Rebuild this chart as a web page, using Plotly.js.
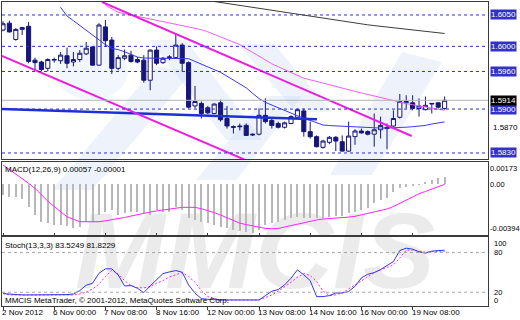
<!DOCTYPE html>
<html><head><meta charset="utf-8">
<script src="https://cdn.plot.ly/plotly-3.0.1.min.js"></script>
<style>html,body{margin:0;padding:0;background:#fff}#chart{width:520px;height:320px}</style>
</head><body><div id="chart"></div>
<script>
// ---------- DATA ----------
const tickBars = [0, 8, 16, 24, 32, 40, 48, 56, 64];
const tickLabels = ["2 Nov 2012", "6 Nov 00:00", "7 Nov 08:00", "8 Nov 16:00", "12 Nov 00:00",
  "13 Nov 08:00", "14 Nov 16:00", "16 Nov 00:00", "19 Nov 08:00"];

const open = [1.6026,1.6037,1.6011,1.6027,1.6032,1.5978,1.5975,1.5965,1.5978,1.5977,
1.5985,1.5975,1.5979,1.5988,1.5999,1.5970,1.6031,1.6010,1.5965,1.5981,
1.5986,1.5979,1.5978,1.5946,1.5994,1.5974,1.5982,1.5982,1.6002,1.5974,
1.5905,1.5909,1.5902,1.5893,1.5910,1.5885,1.5872,1.5873,1.5874,1.5860,
1.5860,1.5890,1.5882,1.5877,1.5871,1.5877,1.5887,1.5897,1.5864,1.5856,
1.5839,1.5847,1.5855,1.5848,1.5833,1.5856,1.5865,1.5864,1.5860,1.5867,
1.5869,1.5873,1.5887,1.5910,1.5910,1.5901,1.5899,1.5908,1.5910,1.5901];
const high = [1.6040,1.6041,1.6029,1.6031,1.6039,1.5982,1.5977,1.5981,1.5982,1.5991,
1.5998,1.5991,1.5994,1.6007,1.6000,1.6037,1.6042,1.6015,1.5986,1.5995,
1.5993,1.5983,1.5986,1.5995,1.6000,1.5983,1.5986,1.6021,1.6005,1.5976,
1.5937,1.5912,1.5905,1.5909,1.5915,1.5905,1.5874,1.5877,1.5877,1.5861,
1.5901,1.5917,1.5885,1.5880,1.5880,1.5890,1.5901,1.5901,1.5880,1.5858,
1.5851,1.5857,1.5857,1.5858,1.5880,1.5868,1.5869,1.5866,1.5893,1.5888,
1.5877,1.5898,1.5924,1.5922,1.5922,1.5917,1.5920,1.5909,1.5911,1.5920];
const low = [1.6024,1.6022,1.6009,1.6018,1.5973,1.5962,1.5960,1.5960,1.5974,1.5972,
1.5965,1.5968,1.5975,1.5986,1.5969,1.5969,1.5999,1.5956,1.5962,1.5978,
1.5974,1.5973,1.5942,1.5930,1.5970,1.5972,1.5978,1.5981,1.5960,1.5901,
1.5901,1.5885,1.5892,1.5892,1.5880,1.5869,1.5861,1.5866,1.5857,1.5857,
1.5858,1.5877,1.5869,1.5869,1.5869,1.5876,1.5885,1.5856,1.5853,1.5839,
1.5837,1.5844,1.5833,1.5832,1.5832,1.5843,1.5861,1.5858,1.5840,1.5853,
1.5836,1.5872,1.5885,1.5901,1.5898,1.5888,1.5898,1.5893,1.5901,1.5899];
const close = [1.6036,1.6023,1.6027,1.6030,1.5976,1.5974,1.5963,1.5979,1.5979,1.5986,
1.5973,1.5979,1.5989,1.5997,1.5970,1.6034,1.6009,1.5965,1.5982,1.5985,
1.5976,1.5975,1.5946,1.5994,1.5973,1.5981,1.5983,1.6002,1.5973,1.5903,
1.5912,1.5893,1.5894,1.5908,1.5883,1.5873,1.5871,1.5872,1.5858,1.5859,
1.5890,1.5880,1.5874,1.5871,1.5878,1.5888,1.5899,1.5864,1.5856,1.5840,
1.5849,1.5855,1.5849,1.5833,1.5857,1.5865,1.5862,1.5860,1.5867,1.5874,
1.5871,1.5885,1.5912,1.5912,1.5901,1.5905,1.5906,1.5909,1.5903,1.5914];

const maBlue = [null,null,null,null,null,null,null,null,null,1.60623,
1.60484,1.60409,1.60333,1.60256,1.60181,1.60104,1.60028,1.59967,1.59948,1.59913,
1.59872,1.59830,1.59814,1.59814,1.59812,1.59810,1.59810,1.59810,1.59812,1.59803,
1.59760,1.59717,1.59674,1.59631,1.59585,1.59524,1.59463,1.59401,1.59339,1.59251,
1.59168,1.59107,1.59063,1.59020,1.58975,1.58931,1.58894,1.58856,1.58818,1.58782,
1.58746,1.58737,1.58731,1.58723,1.58717,1.58709,1.58703,1.58698,1.58698,1.58697,
1.58698,1.58699,1.58701,1.58711,1.58719,1.58728,1.58739,1.58762,1.58779,1.58795];
const maPink = [null,null,null,null,null,null,null,null,null,null,
null,null,null,null,null,null,1.60656,1.60597,1.60543,1.60521,
1.60500,1.60478,1.60455,1.60436,1.60415,1.60395,1.60374,1.60353,1.60331,1.60310,
1.60288,1.60266,1.60232,1.60193,1.60154,1.60115,1.60076,1.60027,1.59964,1.59902,
1.59841,1.59779,1.59722,1.59675,1.59629,1.59582,1.59534,1.59492,1.59467,1.59439,
1.59414,1.59388,1.59361,1.59336,1.59310,1.59283,1.59258,1.59232,1.59205,1.59179,
1.59154,1.59127,1.59104,1.59087,1.59069,1.59052,1.59034,1.59015,1.58998,1.58980];
const maDark = [null,null,null,null,null,null,null,null,null,null,
null,null,null,null,null,null,null,null,null,null,
null,null,null,null,null,null,null,null,null,null,
null,null,null,1.60715,1.60699,1.60683,1.60667,1.60651,1.60636,1.60620,
1.60604,1.60589,1.60573,1.60557,1.60541,1.60526,1.60510,1.60494,1.60478,1.60463,
1.60447,1.60431,1.60415,1.60400,1.60384,1.60368,1.60354,1.60343,1.60331,1.60320,
1.60308,1.60297,1.60285,1.60274,1.60263,1.60251,1.60240,1.60228,1.60217,1.60205];

// trend / channel lines (two anchor points each: bar index, price)
const trendBlueBars = [-0.16, 49.06];
const trendBluePrice = [1.59001, 1.58837];
const chanUpBars = [15.47, 63.86];
const chanUpPrice = [1.60707, 1.58571];
const chanLowBars = [-0.16, 38.6];
const chanLowPrice = [1.59848, 1.58157];

const levelPrices = [1.6050, 1.6000, 1.5960, 1.5900, 1.5830];
const levelText = ["1.6050", "1.6000", "1.5960", "1.5900", "1.5830"];
const bidPrice = 1.5914;
const bidText = "1.5914";
const plainPrice = [1.5870];
const plainText = ["1.5870"];

const macdHist = [-0.00083,-0.00096,-0.00101,-0.00117,-0.00174,-0.00239,-0.00291,-0.00303,-0.00316,-0.00316,
-0.00324,-0.00342,-0.00329,-0.00291,-0.00291,-0.00239,-0.00213,-0.00200,-0.00239,-0.00225,
-0.00213,-0.00213,-0.00225,-0.00239,-0.00200,-0.00213,-0.00213,-0.00174,-0.00200,-0.00264,
-0.00277,-0.00291,-0.00303,-0.00316,-0.00329,-0.00342,-0.00355,-0.00361,-0.00368,-0.00376,
-0.00355,-0.00316,-0.00303,-0.00291,-0.00277,-0.00264,-0.00252,-0.00264,-0.00264,-0.00264,
-0.00260,-0.00252,-0.00244,-0.00244,-0.00225,-0.00213,-0.00200,-0.00182,-0.00148,-0.00122,
-0.00104,-0.00057,-0.00031,-0.00019,-0.00011,-0.00005,0.00020,0.00033,0.00047,0.00057];
const macdSignal = [0.00150,0.00116,0.00080,0.00044,0.00008,-0.00032,-0.00082,-0.00131,-0.00172,-0.00214,
-0.00253,-0.00271,-0.00290,-0.00291,-0.00291,-0.00291,-0.00284,-0.00277,-0.00270,-0.00258,
-0.00247,-0.00235,-0.00225,-0.00216,-0.00207,-0.00200,-0.00192,-0.00184,-0.00179,-0.00179,
-0.00179,-0.00190,-0.00204,-0.00220,-0.00239,-0.00260,-0.00281,-0.00302,-0.00313,-0.00324,
-0.00335,-0.00343,-0.00345,-0.00344,-0.00332,-0.00320,-0.00308,-0.00298,-0.00287,-0.00277,
-0.00270,-0.00267,-0.00263,-0.00259,-0.00255,-0.00249,-0.00237,-0.00225,-0.00214,-0.00204,
-0.00192,-0.00173,-0.00148,-0.00124,-0.00099,-0.00074,-0.00056,-0.00039,-0.00023,-0.00001];
const macdAxisVals = [0.00173, 0, -0.00394];
const macdAxisText = ["0.00173", "0.00", "-0.00394"];

const stochK = [17.9,16.9,15.9,15.9,15.9,15.9,15.9,15.9,15.9,15.9,
16.4,17.4,22.5,30.6,33.6,48.7,55.3,55.3,46.2,29.5,
30.1,26.0,19.4,29.5,38.6,48.2,50.7,52.8,50.2,31.1,
18.4,10.4,9.3,8.3,8.3,8.3,8.3,8.3,8.3,8.3,
8.3,14.9,21.5,24.0,31.1,41.2,53.8,46.2,37.6,13.4,
13.4,14.9,18.9,18.9,21.0,29.0,41.7,47.2,49.7,54.3,
60.4,66.4,83.1,86.6,85.1,81.1,79.1,82.1,83.1,83.5];
const stochD = [18.4,15.9,15.9,15.9,15.9,15.9,15.9,15.9,15.9,15.9,
15.9,15.9,17.4,19.9,25.0,32.1,43.7,53.3,47.7,37.6,
30.1,27.0,26.5,28.5,33.6,37.6,43.1,46.7,49.7,43.7,
35.1,22.5,13.4,10.9,8.3,8.3,8.3,8.3,8.3,8.3,
8.3,11.9,15.9,21.5,28.0,35.1,42.7,48.2,45.2,36.1,
22.0,14.9,16.1,19.0,25.0,30.6,37.1,43.2,49.7,53.8,
57.3,61.3,71.9,83.6,83.6,81.6,80.6,81.1,82.1,81.8];
const stochLevels = [80, 20];
const stochAxisVals = [100, 80, 20, 0];

const macdTitle = "MACD(12,26,9) 0.00057 -0.00001";
const stochTitle = "Stoch(13,3,3) 83.5249 81.8229";
const copyright = "MMCIS MetaTrader, \u00a9 2001-2012, MetaQuotes Software Corp.";
const watermark = "MMCIS";

// ---------- LAYOUT HELPERS ----------
const W = 520, H = 320, ML = 2, MR = 32, MT = 2, MB = 14;
const PW = W - ML - MR, PH = H - MT - MB;
const px = x => (x - ML) / PW;          // pixel x -> paper
const py = y => (H - MB - y) / PH;      // pixel y -> paper
const bars = open.map((_, i) => i);

const NAVY = '#16167a';
const FONT = 'Liberation Sans, Arial, sans-serif';

const traces = [
  { type: 'candlestick', x: bars, open: open, high: high, low: low, close: close,
    xaxis: 'x', yaxis: 'y', whiskerwidth: 0,
    increasing: { line: { color: NAVY, width: 1 }, fillcolor: '#ffffff' },
    decreasing: { line: { color: NAVY, width: 1 }, fillcolor: NAVY },
    hoverinfo: 'skip' },
  { type: 'scatter', mode: 'lines', x: bars, y: maDark, xaxis: 'x', yaxis: 'y',
    line: { color: '#3c3c3c', width: 1 }, hoverinfo: 'skip' },
  { type: 'scatter', mode: 'lines', x: bars, y: maPink, xaxis: 'x', yaxis: 'y',
    line: { color: '#f060f0', width: 1 }, hoverinfo: 'skip' },
  { type: 'scatter', mode: 'lines', x: bars, y: maBlue, xaxis: 'x', yaxis: 'y',
    line: { color: '#3a3aee', width: 1 }, hoverinfo: 'skip' },
  { type: 'scatter', mode: 'lines', x: trendBlueBars, y: trendBluePrice, xaxis: 'x', yaxis: 'y',
    line: { color: '#1d2fd6', width: 2.5 }, hoverinfo: 'skip' },
  { type: 'scatter', mode: 'lines', x: chanUpBars, y: chanUpPrice, xaxis: 'x', yaxis: 'y',
    line: { color: '#ee1ee0', width: 2 }, hoverinfo: 'skip' },
  { type: 'scatter', mode: 'lines', x: chanLowBars, y: chanLowPrice, xaxis: 'x', yaxis: 'y',
    line: { color: '#ee1ee0', width: 2 }, hoverinfo: 'skip' },
  { type: 'bar', x: bars, y: macdHist, xaxis: 'x', yaxis: 'y2', width: 0.33,
    marker: { color: '#b8b8b8', line: { width: 0 } }, hoverinfo: 'skip' },
  { type: 'scatter', mode: 'lines', x: bars, y: macdSignal, xaxis: 'x', yaxis: 'y2',
    line: { color: '#ff22ff', width: 1 }, hoverinfo: 'skip' },
  { type: 'scatter', mode: 'lines', x: bars, y: stochD, xaxis: 'x', yaxis: 'y3',
    line: { color: '#ff22ff', width: 1, dash: '2px,2px' }, hoverinfo: 'skip' },
  { type: 'scatter', mode: 'lines', x: bars, y: stochK, xaxis: 'x', yaxis: 'y3',
    line: { color: '#3434e8', width: 1 }, hoverinfo: 'skip' }
];

// pale watermark bands (decoration)
function poly(pts) {
  return 'M' + pts.map(p => px(p[0]).toFixed(4) + ',' + py(p[1]).toFixed(4)).join('L') + 'Z';
}
const bandColor = 'rgba(190,210,240,0.26)';
const shapes = [];
[
  [[52,190],[92,190],[192,72],[156,66]],
  [[150,40],[186,40],[262,140],[226,140]],
  [[196,180],[236,180],[302,96],[266,96]],
  [[238,44],[274,44],[332,112],[296,112]],
  [[330,175],[372,175],[442,62],[402,52]]
].forEach(b => shapes.push({ type: 'path', xref: 'paper', yref: 'paper', path: poly(b),
  fillcolor: bandColor, line: { width: 0 }, layer: 'below' }));
shapes.push({ type: 'circle', xref: 'paper', yref: 'paper', x0: px(55), x1: px(128), y0: py(100), y1: py(42),
  fillcolor: 'rgba(205,225,245,0.28)', line: { width: 0 }, layer: 'below' });
// gray watermark letters
shapes.push({ type: 'rect', xref: 'paper', yref: 'paper', x0: px(40), x1: px(470), y0: py(285), y1: py(195),
  fillcolor: 'rgba(0,0,0,0)', line: { width: 0 }, layer: 'below',
  label: { text: watermark, textposition: 'middle center',
    font: { family: FONT, size: 108, color: 'rgba(205,205,205,0.4)', weight: 'bold', style: 'italic' } } });

// dashed horizontal levels
levelPrices.forEach(p => shapes.push({ type: 'line', xref: 'paper', x0: 0, x1: 1, yref: 'y', y0: p, y1: p,
  line: { color: '#2c2cd4', width: 1, dash: '3px,3px' } }));
// bid line
shapes.push({ type: 'line', xref: 'paper', x0: 0, x1: 1, yref: 'y', y0: bidPrice, y1: bidPrice,
  line: { color: '#b4b4b4', width: 1 } });
// stochastic levels
stochLevels.forEach(v => shapes.push({ type: 'line', xref: 'paper', x0: 0, x1: 1, yref: 'y3', y0: v, y1: v,
  line: { color: '#a8a8a8', width: 1, dash: '3px,3px' } }));

const annotations = [];
levelPrices.forEach((p, k) => annotations.push({ xref: 'paper', x: 1, xanchor: 'left', xshift: 2,
  yref: 'y', y: p, yanchor: 'middle', text: levelText[k], showarrow: false,
  bgcolor: '#3232c8', borderpad: 0, font: { family: FONT, size: 8, color: '#ffffff' } }));
annotations.push({ xref: 'paper', x: 1, xanchor: 'left', xshift: 2, yref: 'y', y: bidPrice, yanchor: 'middle',
  text: bidText, showarrow: false, bgcolor: '#000000', borderpad: 0, font: { family: FONT, size: 8, color: '#ffffff' } });
plainPrice.forEach((p, k) => annotations.push({ xref: 'paper', x: 1, xanchor: 'left', xshift: 3, yref: 'y', y: p,
  yanchor: 'middle', text: plainText[k], showarrow: false, font: { family: FONT, size: 8, color: '#000' } }));
macdAxisVals.forEach((v, k) => annotations.push({ xref: 'paper', x: 1, xanchor: 'left', xshift: 0, yref: 'y2', y: v,
  yanchor: k === 0 ? 'top' : (k === 2 ? 'bottom' : 'middle'), text: macdAxisText[k], showarrow: false,
  font: { family: FONT, size: 7.5, color: '#000' } }));
stochAxisVals.forEach((v, k) => annotations.push({ xref: 'paper', x: 1, xanchor: 'left', xshift: 4, yref: 'y3', y: v,
  yanchor: 'middle', yshift: k === 0 ? -4 : (k === 3 ? 5 : 0),
  text: String(v), showarrow: false, font: { family: FONT, size: 7.5, color: '#000' } }));
annotations.push({ xref: 'paper', x: px(3), xanchor: 'left', yref: 'paper', y: py(170), yanchor: 'middle',
  text: macdTitle, showarrow: false, font: { family: FONT, size: 8, color: '#000' } });
annotations.push({ xref: 'paper', x: px(3), xanchor: 'left', yref: 'paper', y: py(246), yanchor: 'middle',
  text: stochTitle, showarrow: false, font: { family: FONT, size: 8, color: '#000' } });
annotations.push({ xref: 'paper', x: px(3), xanchor: 'left', yref: 'paper', y: py(300), yanchor: 'middle',
  text: copyright, showarrow: false, font: { family: FONT, size: 8, color: '#000' } });
tickBars.forEach((b, k) => annotations.push({ xref: 'x', x: b, xanchor: 'left', xshift: -3, yref: 'paper', y: py(312.5),
  yanchor: 'middle', text: tickLabels[k], showarrow: false, font: { family: FONT, size: 8, color: '#000' } }));

const axisCommon = { showgrid: false, zeroline: false, showticklabels: false, showline: true,
  linecolor: '#3a3a3a', linewidth: 1, mirror: true, fixedrange: true, ticks: '' };

const layout = {
  width: W, height: H, margin: { l: ML, r: MR, t: MT, b: MB, pad: 0 },
  paper_bgcolor: '#ffffff', plot_bgcolor: 'rgba(0,0,0,0)',
  showlegend: false, hovermode: false, dragmode: false,
  font: { family: FONT, size: 8, color: '#000' },
  boxgap: 0.2, boxgroupgap: 0.2, bargap: 0,
  xaxis: { domain: [0, 1], range: [-0.156, 75.78], anchor: 'y3', showgrid: false, zeroline: false,
    showline: true, mirror: 'all', linecolor: '#3a3a3a', linewidth: 1, ticks: 'outside', ticklen: 3,
    tickcolor: '#3a3a3a', tickvals: tickBars, showticklabels: false, fixedrange: true,
    rangeslider: { visible: false } },
  yaxis: Object.assign({}, axisCommon, { domain: [py(159), py(2)], range: [1.58204, 1.60707], anchor: 'x' }),
  yaxis2: Object.assign({}, axisCommon, { domain: [py(235), py(162)], range: [-0.00394, 0.00173], anchor: 'x' }),
  yaxis3: Object.assign({}, axisCommon, { domain: [py(306), py(237)], range: [-0.8, 103.5], anchor: 'x' }),
  shapes: shapes, annotations: annotations
};

Plotly.newPlot('chart', traces, layout, { staticPlot: true, displayModeBar: false });
</script>
</body></html>
